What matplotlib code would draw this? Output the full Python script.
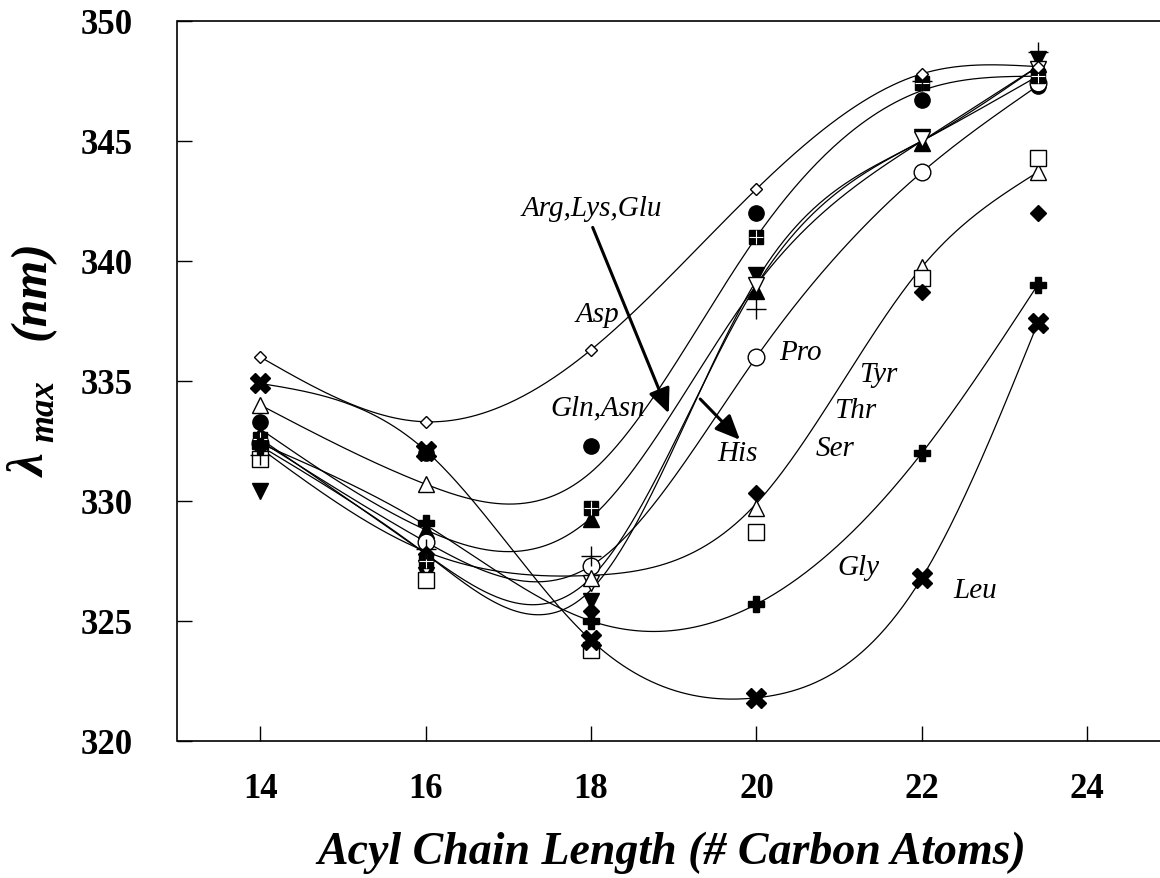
import numpy as np
import matplotlib
matplotlib.use("Agg")
import matplotlib.pyplot as plt

plt.rcParams["font.family"] = ["Liberation Serif", "DejaVu Serif"]

# Acyl chain lengths (number of carbon atoms)
chain_length = [14, 16, 18, 20, 22, 23.4]

# Emission maxima (nm) for each residue set, one array per symbol
open_diamond = [336.0, 333.3, 336.3, 343.0, 347.8, 348.1]
filled_circle = [333.3, 332.0, 332.3, 342.0, 346.7, 347.3]
square_cross = [332.6, 327.5, 329.7, 341.0, 347.4, 347.7]
filled_down_tri = [330.4, 326.9, 325.85, 339.4, 345.15, 348.4]
filled_up_tri = [332.8, 328.8, 329.25, 338.75, 344.9, 348.2]
open_down_tri = [332.2, 327.2, 326.6, 339.0, 345.1, 348.0]
thin_plus = [331.9, 328.0, 327.7, 338.0, 347.5, 348.7]
open_circle = [332.4, 328.3, 327.3, 336.0, 343.7, 347.4]
open_triangle = [334.0, 330.7, 326.8, 329.7, 339.75, 343.7]
open_square = [331.75, 326.7, 323.8, 328.7, 339.3, 344.3]
filled_diamond = [332.5, 327.8, 325.4, 330.35, 338.7, 342.0]
bold_plus = [332.3, 329.1, 325.0, 325.7, 332.0, 339.0]
bold_x = [334.9, 332.1, 324.2, 321.8, 326.8, 337.4]

# Smoothed trend lines (nm) for each residue group
fit_asp = [336.0, 333.3, 336.3, 343.0, 347.8, 348.1]
fit_gln_asn = [334.0, 330.7, 331.2, 341.0, 347.1, 347.7]
fit_arg = [333.0, 328.8, 329.3, 339.0, 345.0, 348.1]
fit_lys = [332.6, 327.8, 326.8, 339.0, 345.0, 347.7]
fit_his = [332.3, 327.8, 326.3, 339.2, 345.0, 348.1]
fit_pro = [332.5, 328.3, 327.3, 336.0, 343.7, 347.3]
fit_tyr_thr_ser = [332.2, 327.9, 326.9, 329.9, 339.75, 343.7]
fit_gly = [332.4, 329.0, 325.0, 325.7, 332.0, 339.0]
fit_leu = [334.9, 332.1, 324.2, 321.8, 326.8, 337.4]

x_ticks = [14, 16, 18, 20, 22, 24]
y_ticks = [320, 325, 330, 335, 340, 345, 350]


def natural_spline(x, y, xs):
    x = np.asarray(x, float)
    y = np.asarray(y, float)
    n = len(x)
    h = np.diff(x)
    A = np.zeros((n, n))
    b = np.zeros(n)
    A[0, 0] = 1.0
    A[-1, -1] = 1.0
    for i in range(1, n - 1):
        A[i, i - 1] = h[i - 1]
        A[i, i] = 2 * (h[i - 1] + h[i])
        A[i, i + 1] = h[i]
        b[i] = 3 * ((y[i + 1] - y[i]) / h[i] - (y[i] - y[i - 1]) / h[i - 1])
    c = np.linalg.solve(A, b)
    out = np.empty_like(xs)
    idx = np.clip(np.searchsorted(x, xs) - 1, 0, n - 2)
    for k, (xv, i) in enumerate(zip(xs, idx)):
        bb = (y[i + 1] - y[i]) / h[i] - h[i] * (2 * c[i] + c[i + 1]) / 3
        d = (c[i + 1] - c[i]) / (3 * h[i])
        t = xv - x[i]
        out[k] = y[i] + bb * t + c[i] * t ** 2 + d * t ** 3
    return out


fig = plt.figure(figsize=(11.6, 8.79), dpi=100)
ax = fig.add_axes([177.5 / 1160, 1 - 742 / 879, (1170 - 177.5) / 1160, 720 / 879])

xs = np.linspace(chain_length[0], chain_length[-1], 400)
for fit in [fit_asp, fit_gln_asn, fit_arg, fit_lys, fit_his, fit_pro,
            fit_tyr_thr_ser, fit_gly, fit_leu]:
    ax.plot(xs, natural_spline(chain_length, fit, xs), color="black", lw=0.9, zorder=2)

common = dict(linestyle="none", zorder=4, clip_on=False)
ax.plot(chain_length, filled_circle, marker="o", ms=11, mfc="black", mec="black", **common)
ax.plot(chain_length, filled_down_tri, marker="v", ms=12, mfc="black", mec="black", **common)
ax.plot(chain_length, filled_up_tri, marker="^", ms=12, mfc="black", mec="black", **common)
ax.plot(chain_length, open_down_tri, marker="v", ms=12, mfc="white", mec="black", mew=1.0, **common)
ax.plot(chain_length, open_circle, marker="o", ms=12, mfc="white", mec="black", mew=1.0, **common)
ax.plot(chain_length, open_triangle, marker="^", ms=12, mfc="white", mec="black", mew=1.0, **common)
ax.plot(chain_length, open_square, marker="s", ms=11, mfc="white", mec="black", mew=1.0, **common)
ax.plot(chain_length, filled_diamond, marker="D", ms=8.5, mfc="black", mec="black", **common)
ax.plot(chain_length, square_cross, marker="s", ms=9.5, mfc="black", mec="black", **common)
ax.plot(chain_length, square_cross, marker="+", ms=9.5, mec="white", mew=0.8, **common)
ax.plot(chain_length, thin_plus, marker="+", ms=15, mec="black", mew=1.0, **common)
ax.plot(chain_length, open_diamond, marker="D", ms=6.5, mfc="white", mec="black", mew=1.0, **common)
ax.plot(chain_length, bold_plus, marker="P", ms=12, mfc="black", mec="black", **common)
ax.plot(chain_length, bold_x, marker="X", ms=14, mfc="black", mec="black", **common)

ax.set_xlim(13, 25)
ax.set_ylim(320, 350)
ax.set_xticks(x_ticks)
ax.set_yticks(y_ticks)
ax.tick_params(direction="in", length=11, width=1.0, labelsize=25, top=False, right=False)
ax.tick_params(axis="x", pad=22)
ax.tick_params(axis="y", pad=32)
for lbl in ax.get_xticklabels() + ax.get_yticklabels():
    lbl.set_fontweight("bold")
for s in ax.spines.values():
    s.set_linewidth(1.2)

lab = dict(fontsize=21, fontstyle="italic", ha="center", va="center", zorder=5)
ax.text(18.01, 342.2, "Arg,Lys,Glu", **lab)
ax.text(18.08, 337.8, "Asp", **lab)
ax.text(18.08, 333.9, "Gln,Asn", **lab)
ax.text(19.77, 332.0, "His", **lab)
ax.text(20.53, 336.2, "Pro", **lab)
ax.text(21.47, 335.3, "Tyr", **lab)
ax.text(21.2, 333.8, "Thr", **lab)
ax.text(20.95, 332.2, "Ser", **lab)
ax.text(21.23, 327.25, "Gly", **lab)
ax.text(22.65, 326.3, "Leu", **lab)

arrow = dict(arrowstyle="-|>,head_length=0.5,head_width=0.22", lw=2.2, color="black",
             mutation_scale=30, shrinkA=0, shrinkB=0)
ax.annotate("", xy=(18.94, 333.65), xytext=(18.02, 341.4), arrowprops=arrow, zorder=5)
ax.annotate("", xy=(19.8, 332.55), xytext=(19.32, 334.25), arrowprops=arrow, zorder=5)

fig.text(672 / 1160, 1 - 853 / 879, "Acyl Chain Length (# Carbon Atoms)",
         fontsize=33, fontweight="bold", fontstyle="italic", ha="center", va="center")

# y-axis title built from pieces so the subscript can be sized freely
ylab = dict(rotation=90, fontweight="bold", fontstyle="italic", ha="center", va="center")
fig.text(33 / 1160, 1 - 466 / 879, "\u03bb", fontsize=37, **ylab)
fig.text(45 / 1160, 1 - 411 / 879, "max", fontsize=25, **ylab)
fig.text(33 / 1160, 1 - 290 / 879, "(nm)", fontsize=36, **ylab)

fig.savefig("out.png", dpi=100)
